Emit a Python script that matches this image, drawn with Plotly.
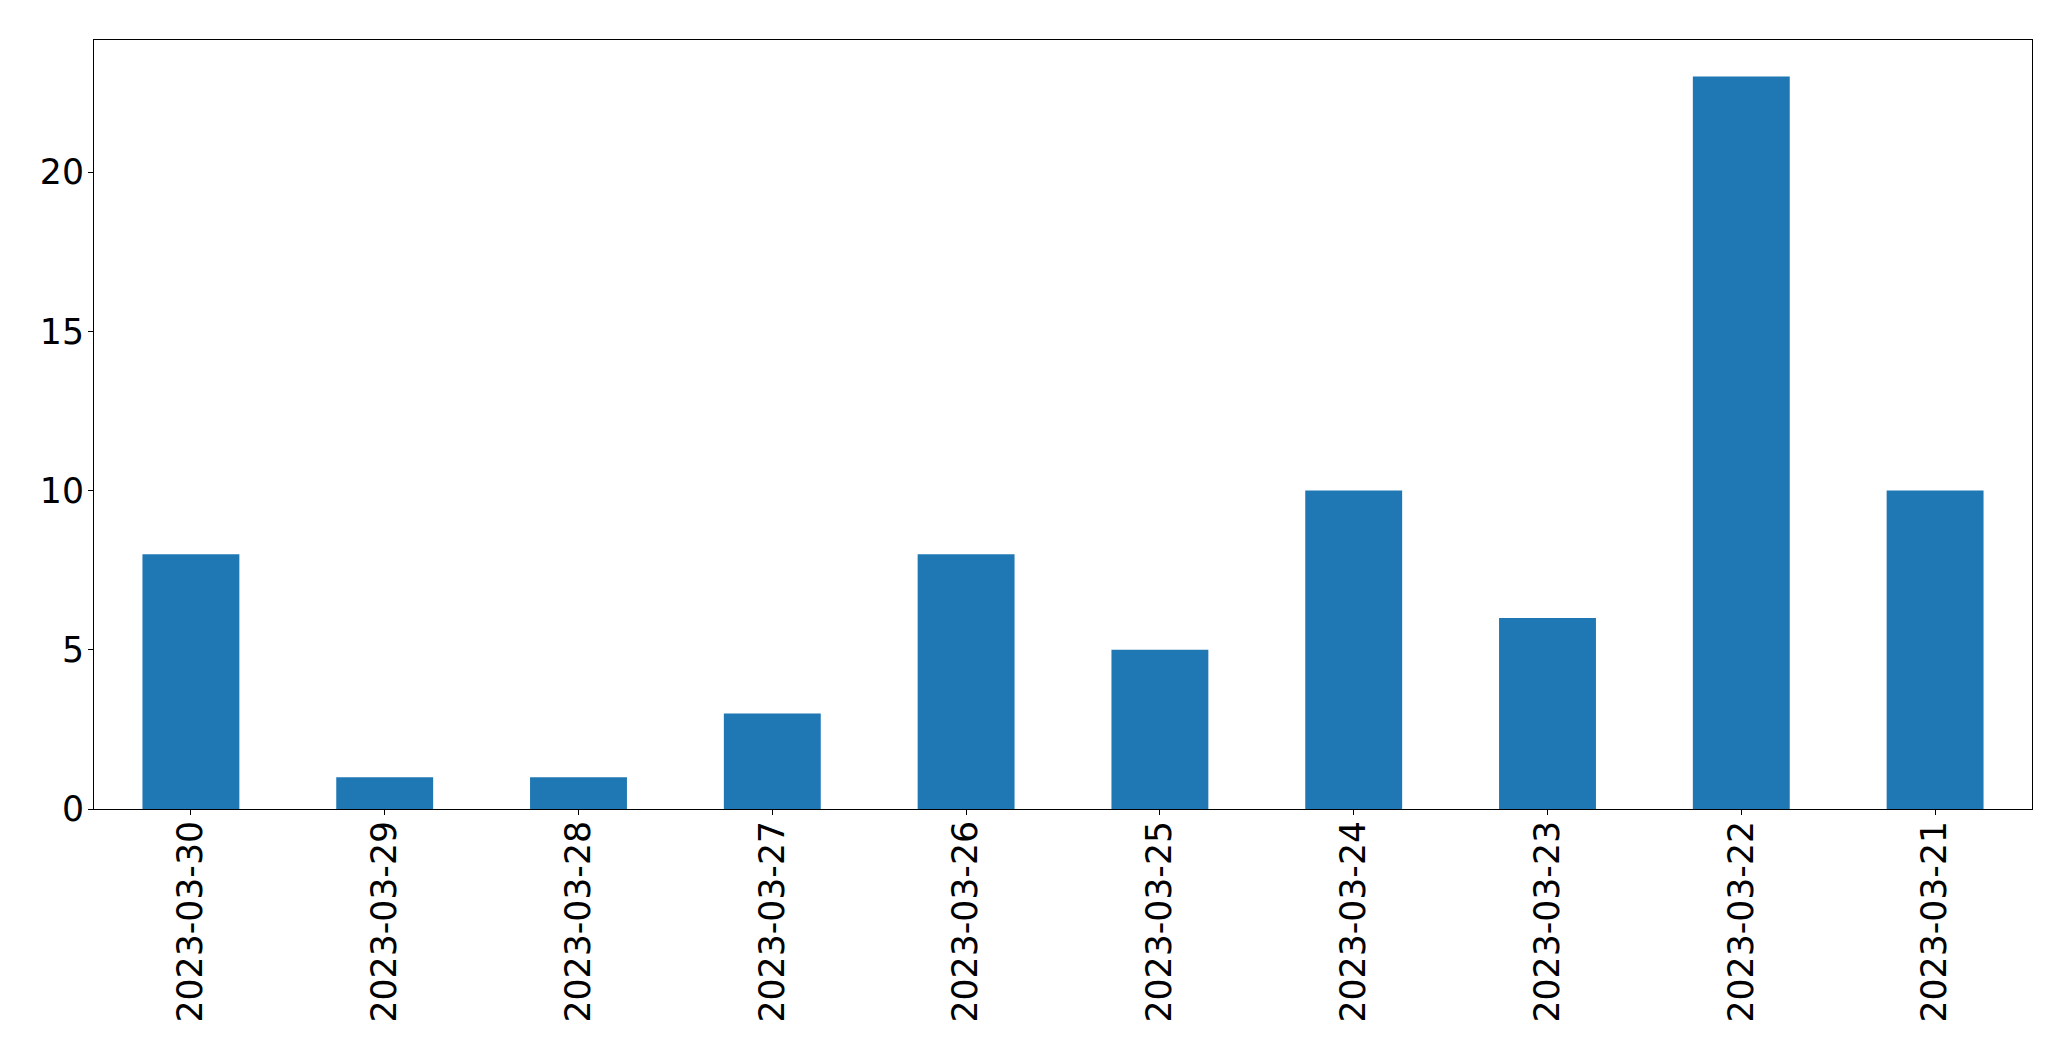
import plotly.graph_objects as go

dates = ["2023-03-30", "2023-03-29", "2023-03-28", "2023-03-27", "2023-03-26",
         "2023-03-25", "2023-03-24", "2023-03-23", "2023-03-22", "2023-03-21"]
counts = [8, 1, 1, 3, 8, 5, 10, 6, 23, 10]
y_ticks = [0, 5, 10, 15, 20]

fig = go.Figure(go.Bar(x=dates, y=counts, marker_color="#1f77b4",
                       marker_line_width=0, width=0.5))

# page body has an 8px default margin; compensate
fig.update_layout(
    width=2063, height=1053,
    margin=dict(l=86, r=39, t=32, b=252),
    plot_bgcolor="white", paper_bgcolor="white",
    font=dict(family="DejaVu Sans", size=34.7, color="black"),
    showlegend=False,
)
fig.update_xaxes(type="category", range=[-0.5, 9.5], tickangle=-90,
                 showline=True, linecolor="black", linewidth=1.2, mirror=True,
                 ticks="outside", ticklen=5, tickcolor="black", tickwidth=1.2,
                 showgrid=False, tickfont=dict(size=34.7), ticklabelstandoff=-8)
fig.update_yaxes(range=[0, 24.15], tickvals=y_ticks,
                 showline=True, linecolor="black", linewidth=1.2, mirror=True,
                 ticks="outside", ticklen=5, tickcolor="black", tickwidth=1.2,
                 showgrid=False, zeroline=False, tickfont=dict(size=34.7),
                 ticklabelstandoff=-3)

fig.write_html("out.html")
